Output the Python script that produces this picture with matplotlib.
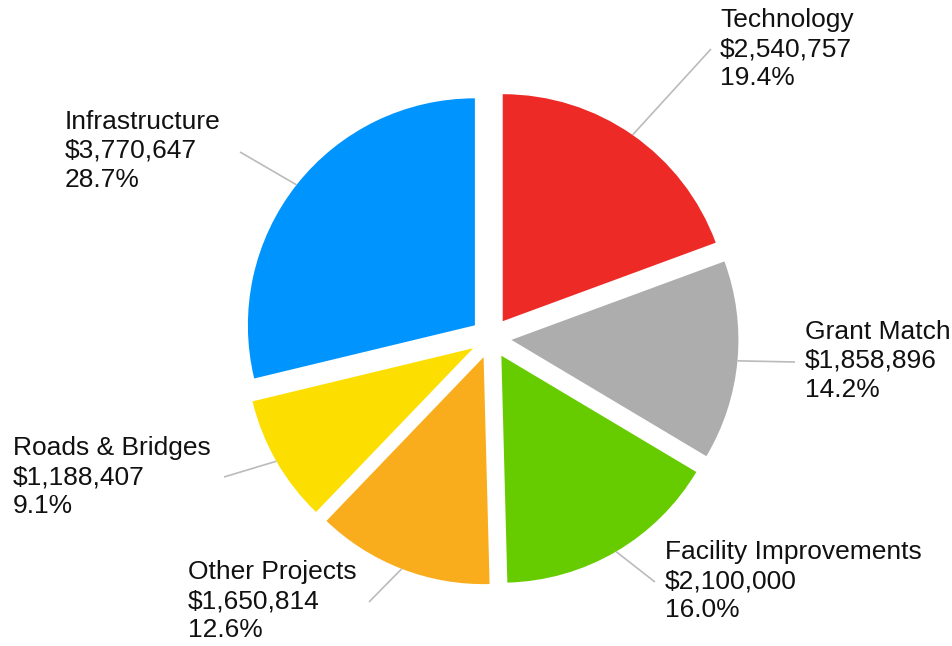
import matplotlib
matplotlib.use("Agg")
import matplotlib.pyplot as plt
import numpy as np

categories = ["Technology", "Grant Match", "Facility Improvements",
              "Other Projects", "Roads & Bridges", "Infrastructure"]
amounts = [2540757, 1858896, 2100000, 1650814, 1188407, 3770647]
pct_labels = ["19.4%", "14.2%", "16.0%", "12.6%", "9.1%", "28.7%"]
colors = ["#EE2A27", "#ADADAD", "#66CC00", "#FAAD1C", "#FCDF00", "#0094FE"]

# label layout in image pixels (y measured from the top): text left edge / centre y, leader end
W, H = 953, 646
text_xy = [(720, 49), (805, 361), (665, 581), (188, 601), (13, 477), (65, 151)]
line_end = [(711, 49), (795, 362), (655, 582), (369, 602), (224, 477), (240, 152)]

plt.rcParams["font.family"] = ["Liberation Sans", "DejaVu Sans"]

fig = plt.figure(figsize=(W / 100, H / 100), dpi=100)
ax = fig.add_axes([0, 0, 1, 1])

# explode is in data units here (axes are in pixels)
wedges, _ = ax.pie(amounts, colors=colors, startangle=90, counterclock=False,
                   explode=[20.5] * len(amounts), center=(491, H - 338), radius=227,
                   wedgeprops={"linewidth": 0})
ax.set_xlim(0, W)
ax.set_ylim(0, H)
ax.set_aspect("equal")
ax.axis("off")

for w, name, val, pct, (tx, ty), (lx, ly) in zip(wedges, categories, amounts, pct_labels,
                                                   text_xy, line_end):
    mid = np.deg2rad((w.theta1 + w.theta2) / 2)
    sx = w.center[0] + w.r * np.cos(mid)
    sy = w.center[1] + w.r * np.sin(mid)
    ax.plot([sx, lx], [sy, H - ly], color="#BBBBBB", linewidth=1.2, solid_capstyle="butt")
    ax.text(tx, H - ty, f"{name}\n${val:,.0f}\n{pct}",
            ha="left", va="center", fontsize=19, linespacing=1.27, color="#111111")

fig.savefig("out.png", dpi=100)
